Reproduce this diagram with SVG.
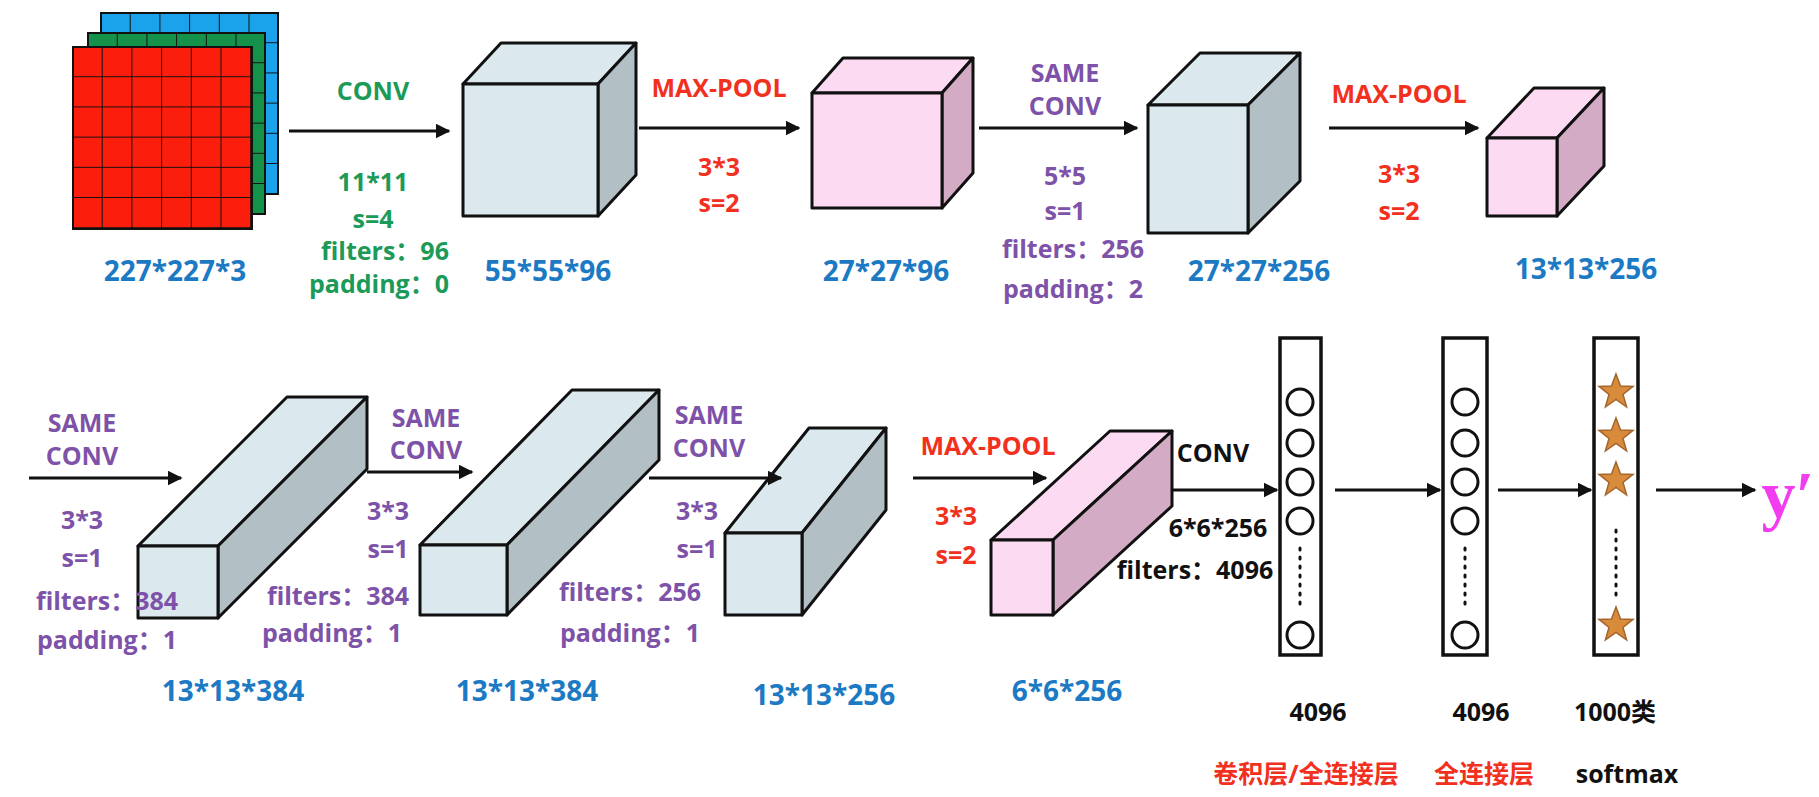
<svg xmlns="http://www.w3.org/2000/svg" width="1819" height="797" viewBox="0 0 1819 797">
<defs>
<style>
text{font-family:"Open Sans","Noto Sans","Noto Sans CJK SC",sans-serif;font-weight:bold;text-anchor:middle;dominant-baseline:central;font-size:25px}
.g{fill:#1c9a58}.r{fill:#f2301e}.p{fill:#7d52a8}.b{fill:#1c7ac4;font-size:28px}.k{fill:#111}
.front{fill:#dbe9ef;stroke:#111;stroke-width:3;stroke-linejoin:round}
.top{fill:#dbe9ef;stroke:#111;stroke-width:3;stroke-linejoin:round}
.side{fill:#b2c0c6;stroke:#111;stroke-width:3;stroke-linejoin:round}
.pf{fill:#fcdaf2;stroke:#111;stroke-width:3;stroke-linejoin:round}
.ps{fill:#d3abc5;stroke:#111;stroke-width:3;stroke-linejoin:round}
.arr{stroke:#111;stroke-width:3;fill:none;marker-end:url(#ah)}
.col{fill:#fff;stroke:#111;stroke-width:3.5}
.nd{fill:#fff;stroke:#111;stroke-width:3}
.dot{stroke:#111;stroke-width:3;stroke-dasharray:2 7;stroke-linecap:round}
.star{fill:#d98b3c;stroke:#a5642c;stroke-width:1.5}
</style>
<marker id="ah" viewBox="0 0 10 10" refX="9" refY="5" markerWidth="5" markerHeight="5" orient="auto" markerUnits="strokeWidth"><path d="M0,0 L10,5 L0,10 z" fill="#111"/></marker>
<pattern id="grid" width="29.7" height="30.2" patternUnits="userSpaceOnUse"><path d="M29.7,0 V30.2 M0,30.2 H29.7" stroke="#111" stroke-width="2" fill="none"/></pattern>
<polygon id="st" points="0,-18 4.5,-6 17,-5.6 7,2.5 10.6,15 0,7.5 -10.6,15 -7,2.5 -17,-5.6 -4.5,-6"/>
</defs>

<g id="input">
<rect x="101" y="13" width="177" height="181" fill="#1aa3ea" stroke="#111" stroke-width="2"/>
<g transform="translate(101 13)"><rect width="177" height="181" fill="url(#grid)"/></g>
<rect x="88" y="33" width="177" height="181" fill="#14924a" stroke="#111" stroke-width="2"/>
<g transform="translate(88 33)"><rect width="177" height="181" fill="url(#grid)"/></g>
<rect x="73" y="47" width="179" height="182" fill="#fc1e0c" stroke="#111" stroke-width="2"/>
<g transform="translate(73 47)"><rect width="179" height="182" fill="url(#grid)"/></g>
<text class="b" x="175" y="270">227*227*3</text>
</g>

<g id="cube1">
<polygon class="top" points="463,84 501,43 636,43 598,84"/>
<polygon class="side" points="598,84 636,43 636,175 598,216"/>
<rect class="front" x="463" y="84" width="135" height="132"/>
<text class="b" x="548" y="270">55*55*96</text>
</g>
<g id="cube2">
<polygon class="pf" points="812,93 843,58 973,58 942,93"/>
<polygon class="ps" points="942,93 973,58 973,173 942,208"/>
<rect class="pf" x="812" y="93" width="130" height="115"/>
<text class="b" x="886" y="270">27*27*96</text>
</g>
<g id="cube3">
<polygon class="top" points="1148,105 1200,53 1300,53 1248,105"/>
<polygon class="side" points="1248,105 1300,53 1300,181 1248,233"/>
<rect class="front" x="1148" y="105" width="100" height="128"/>
<text class="b" x="1259" y="270">27*27*256</text>
</g>
<g id="cube4">
<polygon class="pf" points="1487,138 1534,88 1604,88 1557,138"/>
<polygon class="ps" points="1557,138 1604,88 1604,166 1557,216"/>
<rect class="pf" x="1487" y="138" width="70" height="78"/>
<text class="b" x="1586" y="268">13*13*256</text>
</g>
<g id="cube5">
<polygon class="top" points="138,546 287,397 367,397 218,546"/>
<polygon class="side" points="218,546 367,397 367,469 218,618"/>
<rect class="front" x="138" y="546" width="80" height="72"/>
<text class="b" x="233" y="690">13*13*384</text>
</g>
<g id="cube6">
<polygon class="top" points="420,545 572,390 659,390 507,545"/>
<polygon class="side" points="507,545 659,390 659,460 507,615"/>
<rect class="front" x="420" y="545" width="87" height="70"/>
<text class="b" x="527" y="690">13*13*384</text>
</g>
<g id="cube7">
<polygon class="top" points="725,533 809,428 886,428 802,533"/>
<polygon class="side" points="802,533 886,428 886,510 802,615"/>
<rect class="front" x="725" y="533" width="77" height="82"/>
<text class="b" x="824" y="694">13*13*256</text>
</g>
<g id="cube8">
<polygon class="pf" points="991,540 1110,431 1172,431 1053,540"/>
<polygon class="ps" points="1053,540 1172,431 1172,506 1053,615"/>
<rect class="pf" x="991" y="540" width="62" height="75"/>
<text class="b" x="1067" y="690">6*6*256</text>
</g>

<g id="fc1">
<rect class="col" x="1280" y="338" width="41" height="317"/>
<circle class="nd" cx="1300" cy="402" r="13"/><circle class="nd" cx="1300" cy="443" r="13"/>
<circle class="nd" cx="1300" cy="482" r="13"/><circle class="nd" cx="1300" cy="521" r="13"/>
<circle class="nd" cx="1300" cy="635" r="13"/>
<line class="dot" x1="1300" y1="548" x2="1300" y2="606"/>
<text class="k" x="1318" y="711" font-size="27">4096</text>
<text class="r" x="1306" y="773" font-size="22">卷积层/全连接层</text>
</g>
<g id="fc2">
<rect class="col" x="1443" y="338" width="44" height="317"/>
<circle class="nd" cx="1465" cy="402" r="13"/><circle class="nd" cx="1465" cy="443" r="13"/>
<circle class="nd" cx="1465" cy="482" r="13"/><circle class="nd" cx="1465" cy="521" r="13"/>
<circle class="nd" cx="1465" cy="635" r="13"/>
<line class="dot" x1="1465" y1="548" x2="1465" y2="606"/>
<text class="k" x="1481" y="711" font-size="27">4096</text>
<text class="r" x="1484" y="773" font-size="22">全连接层</text>
</g>
<g id="softmax">
<rect class="col" x="1594" y="338" width="44" height="317"/>
<use href="#st" class="star" x="1616" y="392"/><use href="#st" class="star" x="1616" y="436"/>
<use href="#st" class="star" x="1616" y="480"/><use href="#st" class="star" x="1616" y="625"/>
<line class="dot" x1="1616" y1="530" x2="1616" y2="596"/>
<text class="k" x="1615" y="711" font-size="27">1000类</text>
<text class="k" x="1627" y="773">softmax</text>
</g>
<g id="output">
<text x="1788" y="495" style="font-family:'Liberation Serif','DejaVu Serif',serif;font-size:68px;fill:#f23cf0">y′</text>
</g>

<g id="connectors">
<line class="arr" x1="289" y1="131" x2="449" y2="131"/>
<line class="arr" x1="639" y1="128" x2="799" y2="128"/>
<line class="arr" x1="979" y1="128" x2="1137" y2="128"/>
<line class="arr" x1="1329" y1="128" x2="1478" y2="128"/>
<line class="arr" x1="29" y1="478" x2="181" y2="478"/>
<line class="arr" x1="367" y1="472" x2="472" y2="472"/>
<line class="arr" x1="649" y1="478" x2="781" y2="478"/>
<line class="arr" x1="913" y1="478" x2="1046" y2="478"/>
<line class="arr" x1="1172" y1="490" x2="1277" y2="490"/>
<line class="arr" x1="1335" y1="490" x2="1440" y2="490"/>
<line class="arr" x1="1498" y1="490" x2="1591" y2="490"/>
<line class="arr" x1="1656" y1="490" x2="1755" y2="490"/>
</g>

<g id="labels">
<text class="g" x="373" y="90">CONV</text>
<text class="g" x="373" y="181" font-size="27">11*11</text>
<text class="g" x="373" y="218" font-size="27">s=4</text>
<text class="g" x="385" y="250">filters：96</text>
<text class="g" x="379" y="283">padding：0</text>
<text class="r" x="719" y="87">MAX-POOL</text>
<text class="r" x="719" y="166">3*3</text>
<text class="r" x="719" y="202">s=2</text>
<text class="p" x="1065" y="72">SAME</text>
<text class="p" x="1065" y="105">CONV</text>
<text class="p" x="1065" y="175">5*5</text>
<text class="p" x="1065" y="210">s=1</text>
<text class="p" x="1073" y="248">filters：256</text>
<text class="p" x="1073" y="288">padding：2</text>
<text class="r" x="1399" y="93">MAX-POOL</text>
<text class="r" x="1399" y="173">3*3</text>
<text class="r" x="1399" y="210">s=2</text>
<text class="p" x="82" y="422">SAME</text>
<text class="p" x="82" y="455">CONV</text>
<text class="p" x="82" y="519">3*3</text>
<text class="p" x="82" y="557">s=1</text>
<text class="p" x="107" y="600">filters：384</text>
<text class="p" x="107" y="639">padding：1</text>
<text class="p" x="426" y="417">SAME</text>
<text class="p" x="426" y="449">CONV</text>
<text class="p" x="388" y="510">3*3</text>
<text class="p" x="388" y="548">s=1</text>
<text class="p" x="338" y="595">filters：384</text>
<text class="p" x="332" y="632">padding：1</text>
<text class="p" x="709" y="414">SAME</text>
<text class="p" x="709" y="447">CONV</text>
<text class="p" x="697" y="510">3*3</text>
<text class="p" x="697" y="548">s=1</text>
<text class="p" x="630" y="591">filters：256</text>
<text class="p" x="630" y="632">padding：1</text>
<text class="r" x="988" y="445">MAX-POOL</text>
<text class="r" x="956" y="515">3*3</text>
<text class="r" x="956" y="554">s=2</text>
<text class="k" x="1213" y="452">CONV</text>
<text class="k" x="1218" y="527" font-size="23">6*6*256</text>
<text class="k" x="1195" y="569" font-size="23">filters：4096</text>
</g>
</svg>
